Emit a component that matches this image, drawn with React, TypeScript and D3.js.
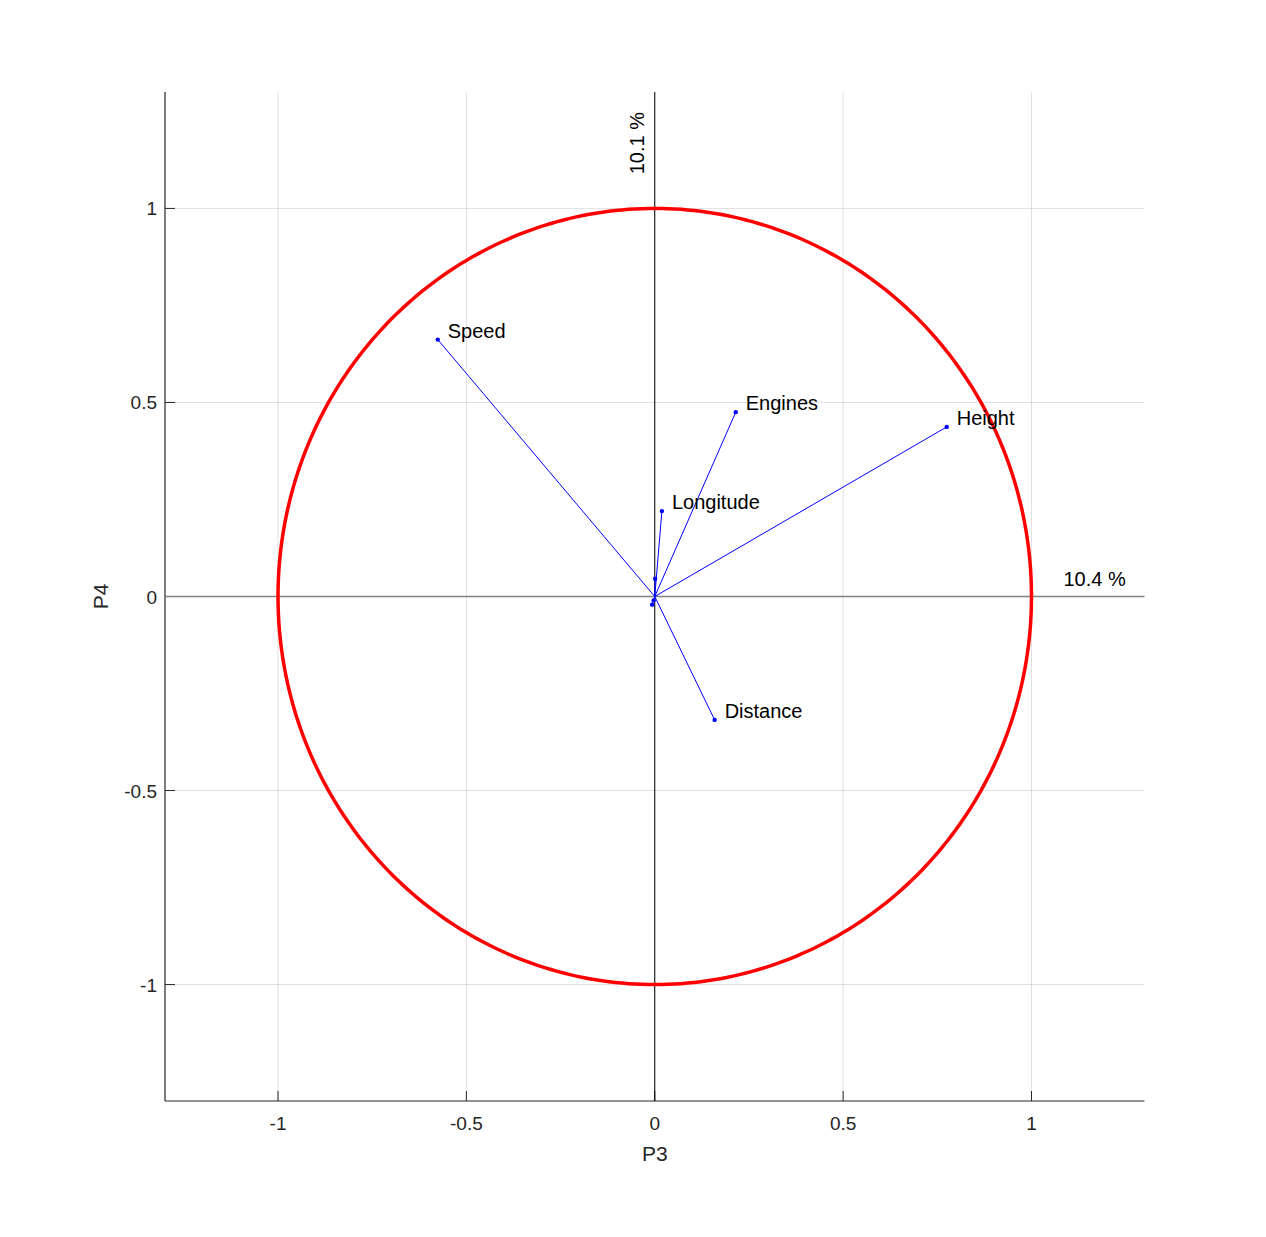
import React from "react";
import * as d3 from "d3";

const variables = ["Speed", "Engines", "Height", "Longitude", "Distance", "", "", ""];
const p3Values = [-0.576, 0.215, 0.775, 0.019, 0.159, 0.001, -0.007, -0.003];
const p4Values = [0.662, 0.475, 0.437, 0.22, -0.318, 0.046, -0.021, -0.01];
const tickValues = [-1, -0.5, 0, 0.5, 1];
const xPct = "10.4 %";
const yPct = "10.1 %";

const W = 1266, H = 1237;
const left = 165, right = 1144.5, top = 92, bottom = 1101;
const font = "Arial, 'Liberation Sans', Helvetica, sans-serif";

export default function App() {
  const x = d3.scaleLinear().domain([-1.3, 1.3]).range([left, right]);
  const y = d3.scaleLinear().domain([-1.3, 1.3]).range([bottom, top]);
  const circle = d3.range(0, 361).map((a) => [Math.cos((a * Math.PI) / 180), Math.sin((a * Math.PI) / 180)] as [number, number]);
  const circlePath = d3.line<[number, number]>().x((d) => x(d[0])).y((d) => y(d[1]))(circle) || "";
  const axisColor = "#262626";
  return (
    <svg width={W} height={H} style={{ display: "block", position: "absolute", left: 0, top: 0 }} fontFamily={font}>
      <rect width={W} height={H} fill="#fff" />
      {tickValues.map((t) => (
        <g key={"g" + t}>
          <line x1={x(t)} x2={x(t)} y1={top} y2={bottom} stroke="#000" strokeOpacity={0.12} />
          <line x1={left} x2={right} y1={y(t)} y2={y(t)} stroke="#000" strokeOpacity={0.12} />
        </g>
      ))}
      {/* axes */}
      <line x1={left} x2={right} y1={bottom} y2={bottom} stroke={axisColor} strokeWidth={1.2} />
      <line x1={left} x2={left} y1={top} y2={bottom} stroke={axisColor} strokeWidth={1.2} />
      {tickValues.map((t) => (
        <g key={"t" + t}>
          <line x1={x(t)} x2={x(t)} y1={bottom} y2={bottom - 10} stroke={axisColor} />
          <text x={x(t)} y={bottom + 29} textAnchor="middle" fontSize={19} fill={axisColor}>{String(t)}</text>
          <line x1={left} x2={left + 10} y1={y(t)} y2={y(t)} stroke={axisColor} />
          <text x={left - 8} y={y(t) + 7} textAnchor="end" fontSize={19} fill={axisColor}>{String(t)}</text>
        </g>
      ))}
      <text x={(left + right) / 2} y={bottom + 60} textAnchor="middle" fontSize={21} fill={axisColor}>P3</text>
      <text transform={`translate(${108},${y(0)}) rotate(-90)`} textAnchor="middle" fontSize={21} fill={axisColor}>P4</text>
      {/* zero lines */}
      <line x1={left} x2={right} y1={y(0)} y2={y(0)} stroke="#808080" strokeWidth={1.5} />
      <line x1={x(0)} x2={x(0)} y1={top} y2={bottom} stroke="#000" strokeWidth={1} />
      <text x={x(1.3) - 81} y={y(0) - 11} fontSize={20} fill="#000">{xPct}</text>
      <text transform={`translate(${x(0) - 11},${top + 20}) rotate(-90)`} textAnchor="end" fontSize={20} fill="#000">{yPct}</text>
      {/* circle */}
      <path d={circlePath} fill="none" stroke="#ff0000" strokeWidth={3.5} />
      {/* vectors */}
      {p3Values.map((v, i) => (
        <g key={"v" + i}>
          <line x1={x(0)} y1={y(0)} x2={x(v)} y2={y(p4Values[i])} stroke="#0000ff" strokeWidth={1} />
          <circle cx={x(v)} cy={y(p4Values[i])} r={2.2} fill="#0000ff" />
          {variables[i] && (
            <text x={x(v) + 10} y={y(p4Values[i]) - 2} fontSize={20} fill="#000">{variables[i]}</text>
          )}
        </g>
      ))}
    </svg>
  );
}
